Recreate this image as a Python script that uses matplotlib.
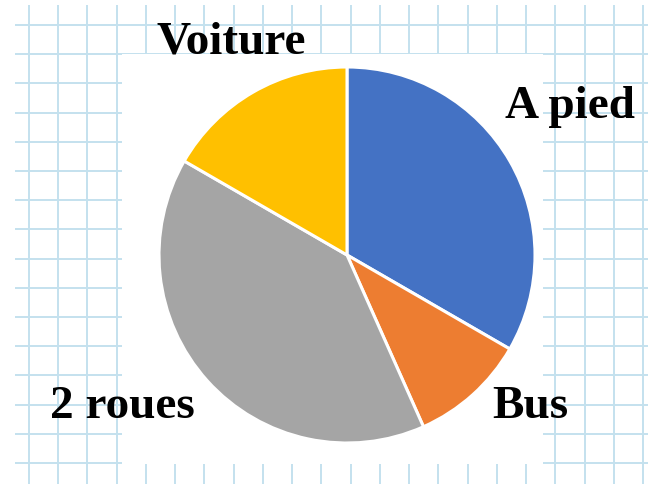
import matplotlib.pyplot as plt
import numpy as np
from matplotlib.patches import Rectangle

labels = ['A pied', 'Bus', '2 roues', 'Voiture']
values = [10, 3, 12, 5]
colors = ['#4472C4', '#ED7D31', '#A5A5A5', '#FFC000']

# label anchor positions (pixels, baseline centre)
label_x = [570, 530, 122, 231]
label_y = [118, 418, 418, 53]

W, H = 648, 484
fig = plt.figure(figsize=(W / 100, H / 100), dpi=100)

# fond papier quadrillé
bg = fig.add_axes([0, 0, 1, 1])
bg.set_xlim(0, W)
bg.set_ylim(H, 0)
bg.axis('off')
grid_col = '#C4E1EE'
xs = 29 + 29.24 * np.arange(22)
ys = 25 + 29.2 * np.arange(16)
bg.vlines(xs, 5, H, color=grid_col, lw=1.4, zorder=1)
bg.hlines(ys, 15, W, color=grid_col, lw=1.4, zorder=1)
bg.add_patch(Rectangle((122, 54), 543 - 122, 464 - 54, facecolor='white',
                       edgecolor='none', zorder=2))

for lab, x, y in zip(labels, label_x, label_y):
    bg.text(x, y, lab, ha='center', va='baseline', fontsize=34,
            fontweight='bold', family='Liberation Serif', zorder=5)

# camembert
cx, cy, r = 347, 255, 188
ax = fig.add_axes([(cx - r) / W, (H - cy - r) / H, 2 * r / W, 2 * r / H])
ax.pie(values, colors=colors, startangle=90, counterclock=False,
       wedgeprops=dict(edgecolor='white', linewidth=2.2))
ax.set_xlim(-1, 1)
ax.set_ylim(-1, 1)
ax.axis('off')

fig.savefig('out.png', dpi=100)
